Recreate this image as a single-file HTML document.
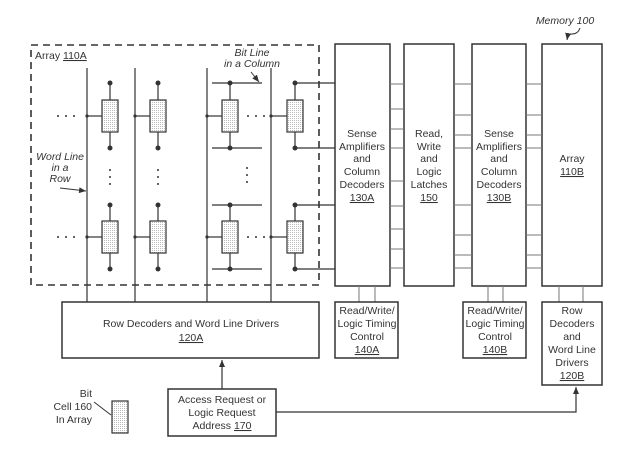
<!DOCTYPE html>
<html><head><meta charset="utf-8"><style>
html,body{margin:0;padding:0;background:#fff;}
svg{display:block;}
text{font-family:"Liberation Sans",sans-serif;font-size:10.5px;fill:#333;}
</style></head><body>
<svg width="634" height="458" viewBox="0 0 634 458" xmlns="http://www.w3.org/2000/svg">
<defs>
<pattern id="dots" width="2" height="2" patternUnits="userSpaceOnUse"><rect width="2" height="2" fill="#fff"/><rect width="1" height="1" fill="#bbb"/></pattern>
<marker id="ah" markerWidth="8" markerHeight="8" refX="7" refY="4" orient="auto" markerUnits="userSpaceOnUse"><path d="M0,1 L7,4 L0,7 z" fill="#333"/></marker>
</defs>
<g stroke="#333" fill="none" stroke-width="1.2">
<rect x="31" y="45" width="288" height="240" stroke-dasharray="7,5" stroke-width="1.6"/>
<line x1="87" y1="68" x2="87" y2="302"/>
<line x1="135" y1="68" x2="135" y2="302"/>
<line x1="207" y1="68" x2="207" y2="302"/>
<line x1="271" y1="68" x2="271" y2="302"/>
<line x1="212" y1="83" x2="262" y2="83"/>
<line x1="212" y1="148" x2="262" y2="148"/>
<line x1="212" y1="205" x2="262" y2="205"/>
<line x1="212" y1="269" x2="262" y2="269"/>
<line x1="295" y1="83" x2="335" y2="83"/>
<line x1="295" y1="148" x2="335" y2="148"/>
<line x1="295" y1="205" x2="335" y2="205"/>
<line x1="295" y1="269" x2="335" y2="269"/>
<g>
<line x1="110" y1="83" x2="110" y2="148"/><line x1="158" y1="83" x2="158" y2="148"/>
<line x1="230" y1="83" x2="230" y2="148"/><line x1="295" y1="83" x2="295" y2="148"/>
<line x1="110" y1="205" x2="110" y2="269"/><line x1="158" y1="205" x2="158" y2="269"/>
<line x1="230" y1="205" x2="230" y2="269"/><line x1="295" y1="205" x2="295" y2="269"/>
<line x1="87" y1="116" x2="102" y2="116"/><line x1="135" y1="116" x2="150" y2="116"/>
<line x1="207" y1="116" x2="222" y2="116"/><line x1="271" y1="116" x2="287" y2="116"/>
<line x1="87" y1="237" x2="102" y2="237"/><line x1="135" y1="237" x2="150" y2="237"/>
<line x1="207" y1="237" x2="222" y2="237"/><line x1="271" y1="237" x2="287" y2="237"/>
</g>
<rect x="335" y="44" width="55" height="242" stroke-width="1.5"/>
<rect x="404" y="44" width="50" height="242" stroke-width="1.5"/>
<rect x="472" y="44" width="54" height="242" stroke-width="1.5"/>
<rect x="542" y="44" width="60" height="242" stroke-width="1.5"/>
<g stroke="#777" stroke-width="1">
<line x1="390" y1="84" x2="404" y2="84"/><line x1="390" y1="109" x2="404" y2="109"/><line x1="390" y1="129" x2="404" y2="129"/><line x1="390" y1="148" x2="404" y2="148"/><line x1="390" y1="181" x2="404" y2="181"/><line x1="390" y1="206" x2="404" y2="206"/><line x1="390" y1="229" x2="404" y2="229"/><line x1="390" y1="249" x2="404" y2="249"/><line x1="390" y1="268" x2="404" y2="268"/>
<line x1="454" y1="84" x2="472" y2="84"/><line x1="454" y1="115" x2="472" y2="115"/><line x1="454" y1="135" x2="472" y2="135"/><line x1="454" y1="148" x2="472" y2="148"/><line x1="454" y1="205" x2="472" y2="205"/><line x1="454" y1="235" x2="472" y2="235"/><line x1="454" y1="255" x2="472" y2="255"/><line x1="454" y1="268" x2="472" y2="268"/>
<line x1="526" y1="84" x2="542" y2="84"/><line x1="526" y1="115" x2="542" y2="115"/><line x1="526" y1="135" x2="542" y2="135"/><line x1="526" y1="148" x2="542" y2="148"/><line x1="526" y1="205" x2="542" y2="205"/><line x1="526" y1="235" x2="542" y2="235"/><line x1="526" y1="255" x2="542" y2="255"/><line x1="526" y1="268" x2="542" y2="268"/>
<line x1="359" y1="286" x2="359" y2="302"/><line x1="375" y1="286" x2="375" y2="302"/>
<line x1="488" y1="286" x2="488" y2="302"/><line x1="503" y1="286" x2="503" y2="302"/>
<line x1="559" y1="286" x2="559" y2="302"/><line x1="583" y1="286" x2="583" y2="302"/>
</g>
<rect x="62" y="302" width="257" height="56" stroke-width="1.5"/>
<rect x="335" y="302" width="63" height="56" stroke-width="1.5"/>
<rect x="463" y="302" width="63" height="56" stroke-width="1.5"/>
<rect x="542" y="302" width="60" height="83" stroke-width="1.5"/>
<rect x="168" y="389" width="108" height="47" stroke-width="1.5"/>
<line x1="222" y1="389" x2="222" y2="360" marker-end="url(#ah)"/>
<polyline points="276,412 576,412 576,387" marker-end="url(#ah)"/>
<line x1="251" y1="72" x2="259" y2="82" stroke-width="1" marker-end="url(#ah)"/>
<line x1="60" y1="188" x2="86" y2="191" stroke-width="1" marker-end="url(#ah)"/>
<path d="M580,28 q-2,6 -8,6 q-4,0 -5,6" stroke-width="1" marker-end="url(#ah)"/>
<line x1="94" y1="402" x2="111" y2="415" stroke-width="1"/>
</g>
<g fill="url(#dots)" stroke="#333" stroke-width="1.2">
<rect x="102" y="100" width="16" height="32"/><rect x="150" y="100" width="16" height="32"/>
<rect x="222" y="100" width="16" height="32"/><rect x="287" y="100" width="16" height="32"/>
<rect x="102" y="221" width="16" height="32"/><rect x="150" y="221" width="16" height="32"/>
<rect x="222" y="221" width="16" height="32"/><rect x="287" y="221" width="16" height="32"/>
<rect x="112" y="401" width="16" height="32"/>
</g>
<g fill="#333">
<circle cx="110" cy="83" r="2.5"/><circle cx="158" cy="83" r="2.5"/><circle cx="230" cy="83" r="2.5"/><circle cx="295" cy="83" r="2.5"/>
<circle cx="110" cy="148" r="2.5"/><circle cx="158" cy="148" r="2.5"/><circle cx="230" cy="148" r="2.5"/><circle cx="295" cy="148" r="2.5"/>
<circle cx="110" cy="205" r="2.5"/><circle cx="158" cy="205" r="2.5"/><circle cx="230" cy="205" r="2.5"/><circle cx="295" cy="205" r="2.5"/>
<circle cx="110" cy="269" r="2.5"/><circle cx="158" cy="269" r="2.5"/><circle cx="230" cy="269" r="2.5"/><circle cx="295" cy="269" r="2.5"/>
<circle cx="87" cy="116" r="1.6"/><circle cx="135" cy="116" r="1.6"/><circle cx="207" cy="116" r="1.6"/><circle cx="271" cy="116" r="1.6"/>
<circle cx="87" cy="237" r="1.6"/><circle cx="135" cy="237" r="1.6"/><circle cx="207" cy="237" r="1.6"/><circle cx="271" cy="237" r="1.6"/>
<circle cx="58" cy="116" r="1"/><circle cx="66" cy="116" r="1"/><circle cx="74" cy="116" r="1"/>
<circle cx="58" cy="237" r="1"/><circle cx="66" cy="237" r="1"/><circle cx="74" cy="237" r="1"/>
<circle cx="248" cy="116" r="1"/><circle cx="256" cy="116" r="1"/><circle cx="264" cy="116" r="1"/>
<circle cx="248" cy="237" r="1"/><circle cx="256" cy="237" r="1"/><circle cx="264" cy="237" r="1"/>
<circle cx="110" cy="170" r="1"/><circle cx="110" cy="177" r="1"/><circle cx="110" cy="184" r="1"/>
<circle cx="158" cy="170" r="1"/><circle cx="158" cy="177" r="1"/><circle cx="158" cy="184" r="1"/>
<circle cx="247" cy="168" r="1"/><circle cx="247" cy="175" r="1"/><circle cx="247" cy="182" r="1"/>
</g>
<text x="35" y="59">Array <tspan text-decoration="underline">110A</tspan></text>
<g font-style="italic" text-anchor="middle">
<text x="252" y="56" font-style="italic">Bit Line</text>
<text x="252" y="67" font-style="italic">in a Column</text>
<text x="60" y="160" font-style="italic">Word Line</text>
<text x="60" y="171" font-style="italic">in a</text>
<text x="60" y="182" font-style="italic">Row</text>
<text x="565" y="24" font-style="italic" font-size="9.5">Memory 100</text>
</g>
<g text-anchor="middle">
<text x="362" y="137">Sense</text><text x="362" y="150">Amplifiers</text><text x="362" y="162">and</text><text x="362" y="175">Column</text><text x="362" y="188">Decoders</text><text x="362" y="201" text-decoration="underline">130A</text>
<text x="429" y="137">Read,</text><text x="429" y="150">Write</text><text x="429" y="162">and</text><text x="429" y="175">Logic</text><text x="429" y="188">Latches</text><text x="429" y="201" text-decoration="underline">150</text>
<text x="499" y="137">Sense</text><text x="499" y="150">Amplifiers</text><text x="499" y="162">and</text><text x="499" y="175">Column</text><text x="499" y="188">Decoders</text><text x="499" y="201" text-decoration="underline">130B</text>
<text x="572" y="162">Array</text><text x="572" y="175" text-decoration="underline">110B</text>
<text x="191" y="327">Row Decoders and Word Line Drivers</text>
<text x="191" y="341" text-decoration="underline">120A</text>
<text x="367" y="314" font-size="9.5">Read/Write/</text><text x="367" y="327" font-size="9.5">Logic Timing</text><text x="367" y="340" font-size="9.5">Control</text><text x="367" y="353" font-size="9.5" text-decoration="underline">140A</text>
<text x="495" y="314" font-size="9.5">Read/Write/</text><text x="495" y="327" font-size="9.5">Logic Timing</text><text x="495" y="340" font-size="9.5">Control</text><text x="495" y="353" font-size="9.5" text-decoration="underline">140B</text>
<text x="572" y="314">Row</text><text x="572" y="327">Decoders</text><text x="572" y="340">and</text><text x="572" y="353">Word Line</text><text x="572" y="366">Drivers</text><text x="572" y="379" text-decoration="underline">120B</text>
<text x="222" y="403">Access Request or</text><text x="222" y="416">Logic Request</text><text x="222" y="429">Address <tspan text-decoration="underline">170</tspan></text>
</g>
<g text-anchor="end">
<text x="92" y="397">Bit</text><text x="92" y="410">Cell 160</text><text x="92" y="423">In Array</text>
</g>
</svg>
</body></html>
